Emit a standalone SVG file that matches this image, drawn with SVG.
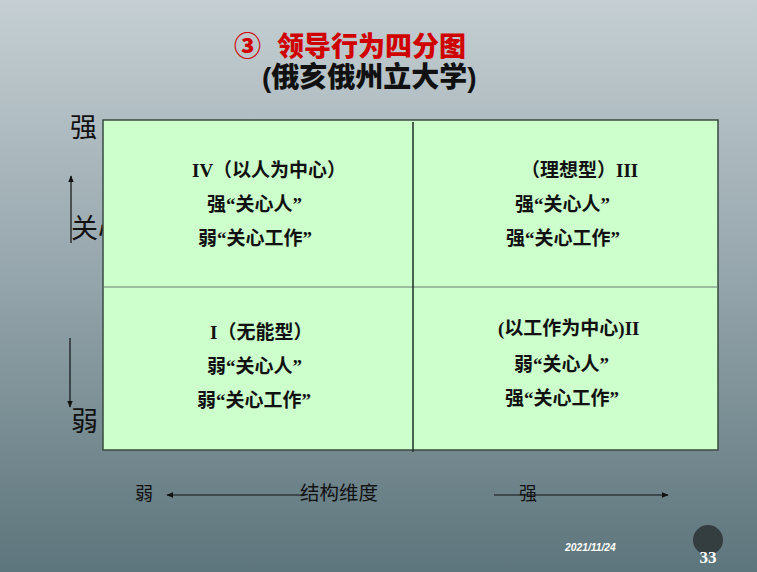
<svg xmlns="http://www.w3.org/2000/svg" width="757" height="572" viewBox="0 0 757 572">
<defs>
<linearGradient id="bg" x1="0" y1="0" x2="0" y2="1">
<stop offset="0" stop-color="#c5cfd3"/>
<stop offset="0.5" stop-color="#93a4aa"/>
<stop offset="1" stop-color="#5d757c"/>
</linearGradient>
<marker id="ah" viewBox="0 0 10 10" refX="9" refY="5" markerWidth="7" markerHeight="7" orient="auto-start-reverse" markerUnits="userSpaceOnUse">
<path d="M0,1 L10,5 L0,9 z" fill="#111"/>
</marker>
<style>
.q{fill:#ccffcc;stroke:none}
.qt{font-family:"Liberation Serif","Noto Sans CJK SC",serif;font-weight:bold;font-size:19px;fill:#111}
.ax{font-family:"Noto Sans CJK SC",sans-serif;fill:#111}
.ln{stroke:#111;stroke-width:1.2;fill:none}
.title{font-family:"Noto Sans CJK SC",sans-serif;font-weight:900;font-size:27px}
</style>
</defs>
<rect x="0" y="0" width="757" height="572" fill="url(#bg)"/>

<g id="title">
<text class="title" x="234" y="56" fill="#d00000">③</text>
<text class="title" x="277" y="56" fill="#d00000">领导行为四分图</text>
<text class="title" x="262" y="87" fill="#111" style="font-family:'Liberation Sans','Noto Sans CJK SC',sans-serif;font-size:28px">(俄亥俄州立大学)</text>
</g>

<g id="y-axis-labels">
<text class="ax" x="70" y="137" font-size="27">强</text>
<text class="ax" x="71" y="238" font-size="27">关心</text>
<text class="ax" x="71" y="431" font-size="27">弱</text>
</g>

<g id="connectors">
<line class="ln" x1="71" y1="243" x2="71" y2="176" marker-end="url(#ah)"/>
<line class="ln" x1="70" y1="338" x2="70" y2="407" marker-end="url(#ah)"/>
<line class="ln" x1="303" y1="495" x2="167" y2="495" marker-end="url(#ah)"/>
<line class="ln" x1="494" y1="495" x2="668" y2="495" marker-end="url(#ah)"/>
</g>

<g id="q4">
<rect class="q" x="103" y="120" width="310" height="167"/>
<text class="qt" x="192" y="177">IV（以人为中心）</text>
<text class="qt" x="207" y="211">强“关心人”</text>
<text class="qt" x="198" y="245">弱“关心工作”</text>
</g>
<g id="q3">
<rect class="q" x="413" y="120" width="305" height="167"/>
<text class="qt" x="521" y="177">（理想型）III</text>
<text class="qt" x="515" y="211">强“关心人”</text>
<text class="qt" x="506" y="245">强“关心工作”</text>
</g>
<g id="q1">
<rect class="q" x="103" y="287" width="310" height="163"/>
<text class="qt" x="210" y="339">I（无能型）</text>
<text class="qt" x="207" y="373">弱“关心人”</text>
<text class="qt" x="197" y="407">弱“关心工作”</text>
</g>
<g id="q2">
<rect class="q" x="413" y="287" width="305" height="163"/>
<text class="qt" x="498" y="335">(以工作为中心)II</text>
<text class="qt" x="514" y="371">弱“关心人”</text>
<text class="qt" x="505" y="405">强“关心工作”</text>
</g>

<g id="frame">
<rect x="103" y="120" width="615" height="330" fill="none" stroke="#3a4a40" stroke-width="1.5"/>
<line x1="103" y1="287" x2="718" y2="287" stroke="#6a7a70" stroke-width="1"/>
<line x1="413" y1="122" x2="413" y2="452" stroke="#263a2c" stroke-width="1.6"/>
</g>

<g id="x-axis-labels">
<text class="ax" x="135" y="500" font-size="18">弱</text>
<text class="ax" x="300" y="500" font-size="19.5">结构维度</text>
<text class="ax" x="519" y="500" font-size="18">强</text>
</g>

<g id="footer">
<text x="565" y="551" font-family="Liberation Sans, sans-serif" font-size="10.3" font-weight="bold" font-style="italic" fill="#ffffff">2021/11/24</text>
<circle cx="708" cy="540" r="15" fill="#343d40"/>
<text x="708" y="563" text-anchor="middle" font-family="Liberation Serif, serif" font-weight="bold" font-size="17" fill="#ffffff">33</text>
</g>
</svg>
